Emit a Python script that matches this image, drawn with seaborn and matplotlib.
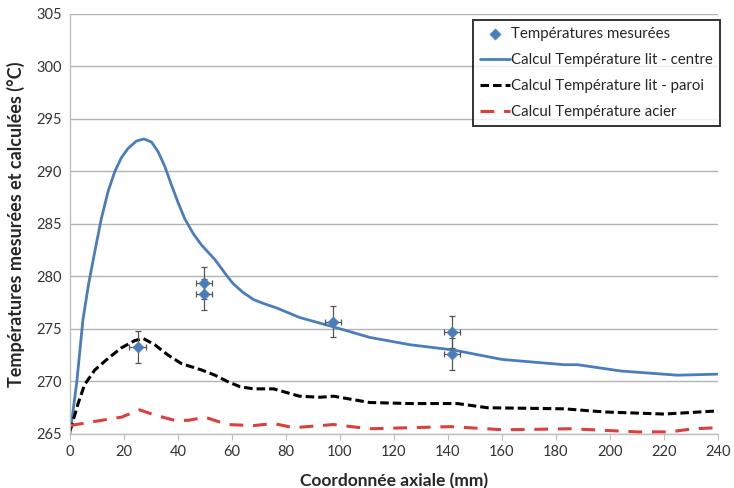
import matplotlib
matplotlib.use("Agg")
import matplotlib.pyplot as plt
import seaborn as sns

# Axial position (mm) and computed bed temperature at the centre (°C)
x_centre = [0, 2.5, 4.8, 6.9, 9.2, 11.6, 14.1, 16.6, 19.0, 21.5, 24.6, 27.4, 30.2,
            32.6, 35.1, 37.6, 40.1, 42.5, 45.6, 48.7, 53.7, 58.3, 60.5, 64, 68, 72,
            76.6, 85, 97.6, 111, 126, 142, 160, 183, 188, 204, 225, 240]
t_centre = [265, 269.9, 275.9, 279.3, 282.4, 285.5, 288.1, 290.0, 291.3, 292.2, 292.9,
            293.1, 292.8, 291.9, 290.5, 288.7, 287.0, 285.5, 284.1, 283.0, 281.6, 280.0,
            279.3, 278.5, 277.8, 277.4, 277.0, 276.1, 275.2, 274.2, 273.5, 273.0, 272.1,
            271.6, 271.6, 271.0, 270.6, 270.7]

# Computed bed temperature at the wall (°C)
x_paroi = [0, 0.5, 3.0, 5.4, 9.2, 14.1, 19.0, 24, 27.1, 31.4, 36.4, 41.3, 48.7, 53.7,
           58.3, 63, 68, 75.4, 85, 92.7, 97.6, 111, 126, 143.5, 154.6, 183, 197.8, 220,
           240]
t_paroi = [265.3, 265.7, 267.9, 269.7, 271.1, 272.2, 273.2, 273.9, 274.1, 273.5, 272.5,
           271.7, 271.1, 270.6, 270.0, 269.5, 269.3, 269.3, 268.6, 268.5, 268.6, 268.0,
           267.9, 267.9, 267.5, 267.4, 267.1, 266.9, 267.2]

# Computed steel temperature (°C)
x_acier = [0, 11.6, 19, 25.8, 31.4, 38.8, 43.8, 50, 58.3, 68, 75.4, 82.8, 97.6, 111,
           141, 160.6, 185.5, 210, 222, 231, 240]
t_acier = [265.8, 266.3, 266.6, 267.3, 266.8, 266.3, 266.3, 266.6, 265.9, 265.8, 266.0,
           265.6, 265.9, 265.5, 265.7, 265.4, 265.5, 265.2, 265.2, 265.5, 265.6]

# Measured temperatures with uncertainties
x_mes = [25, 49.5, 49.5, 97.5, 141.5, 141.5]
t_mes = [273.3, 279.4, 278.3, 275.7, 274.7, 272.6]
x_err = 3
t_err = 1.5

sns.set_style("white")
plt.rcParams["font.family"] = ["Lato", "DejaVu Sans"]

fig = plt.figure(figsize=(7.34, 4.88), dpi=100)
ax = fig.add_axes([70 / 734, 54 / 488, 648 / 734, 420 / 488])

blue = "#4a7ebb"
red = "#d9403e"

ax.errorbar(x_mes, t_mes, xerr=x_err, yerr=t_err, fmt="none", ecolor="#555555",
            elinewidth=0.9, capsize=2.5, capthick=0.9, zorder=3)
sns.scatterplot(x=x_mes, y=t_mes, marker="D", s=32, color=blue, edgecolor=blue,
                ax=ax, zorder=4, label="Températures mesurées")
sns.lineplot(x=x_centre, y=t_centre, color=blue, linewidth=2.0, ax=ax,
             label="Calcul Température lit - centre", sort=False)
sns.lineplot(x=x_paroi, y=t_paroi, color="black", linewidth=2.2, ax=ax,
             dashes=False, label="Calcul Température lit - paroi", sort=False,
             linestyle=(0, (2.8, 1.3)))
sns.lineplot(x=x_acier, y=t_acier, color=red, linewidth=2.2, ax=ax,
             dashes=False, label="Calcul Température acier", sort=False,
             linestyle=(0, (4.5, 3.2)))

ax.set_xlim(0, 240)
ax.set_ylim(265, 305)
ax.set_xticks(range(0, 241, 20))
ax.set_yticks(range(265, 306, 5))
ax.yaxis.grid(True, color="#b3b3b3", linewidth=1.0)
ax.xaxis.grid(False)
for side in ("top", "right"):
    ax.spines[side].set_visible(False)
for side in ("left", "bottom"):
    ax.spines[side].set_color("#bfbfbf")
    ax.spines[side].set_linewidth(1.0)
ax.tick_params(axis="x", which="major", direction="out", length=4, color="#bfbfbf",
               labelsize=10.5, pad=4, bottom=True, labelcolor="#333333")
ax.tick_params(axis="y", which="major", length=0, labelsize=10.5, pad=6,
               labelcolor="#333333")

ax.set_xlabel("Coordonnée axiale (mm)", fontsize=12.5, fontweight="bold", labelpad=10)
ax.set_ylabel("Températures mesurées et calculées (°C)", fontsize=13,
              fontweight="bold", labelpad=8)

leg = ax.legend(loc="upper right", bbox_to_anchor=(1.003, 0.985), fontsize=10.8,
                frameon=True, fancybox=False, edgecolor="black", labelspacing=0.8,
                handlelength=2.0, handletextpad=0.1, borderpad=0.45, borderaxespad=0)
leg.get_frame().set_linewidth(1.4)

fig.savefig("out.png", dpi=100)
